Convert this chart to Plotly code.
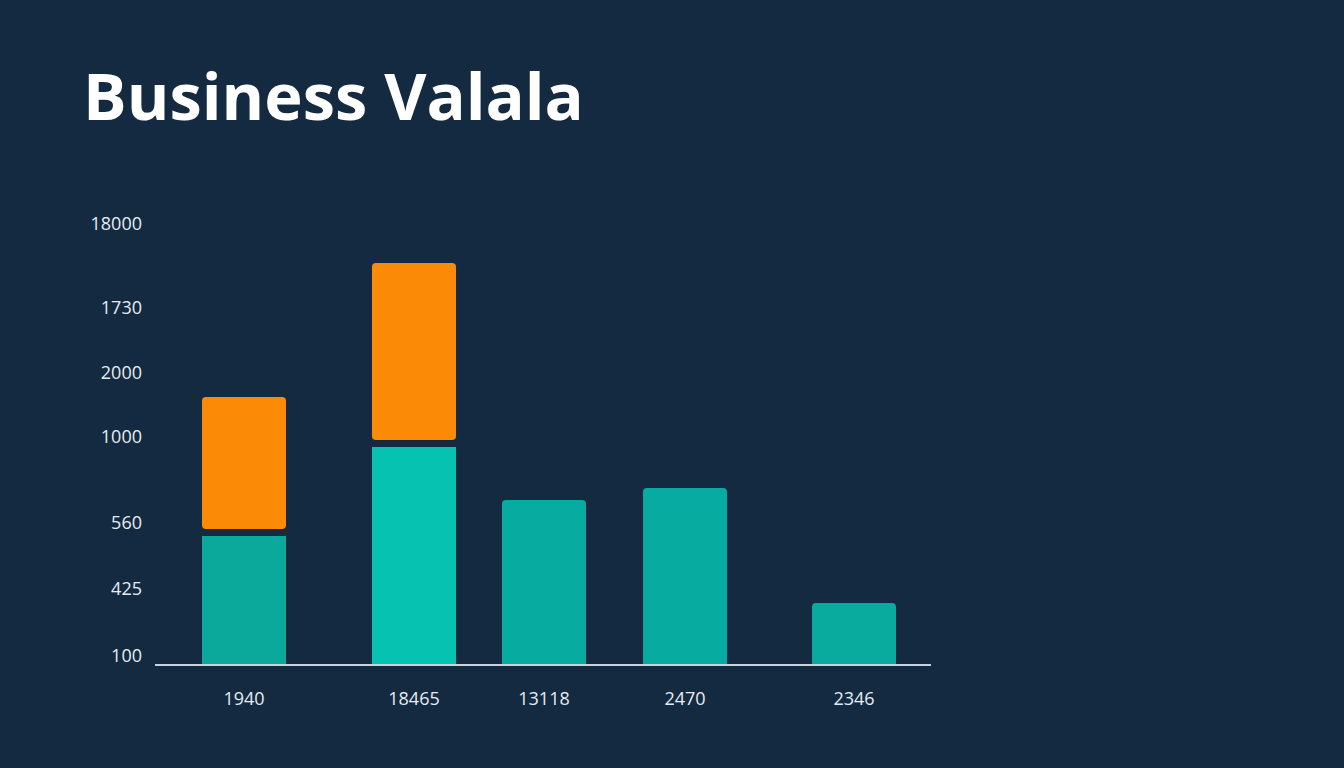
import plotly.graph_objects as go

# arbitrary units: value = pixel height above baseline
categories = ["1940", "18465", "13118", "2470", "2346"]
x_pos = [244, 414, 544, 685, 854]
teal_vals = [128, 217, 164, 176, 61]
orange_base = [135, 224, None, None, None]
orange_top = [267, 401, None, None, None]
tick_vals = [8, 75, 141, 227, 291, 356, 440]
tick_text = ["100", "425", "560", "1000", "2000", "1730", "18000"]

orange_len = [t - b if t is not None else None for t, b in zip(orange_top, orange_base)]

fig = go.Figure()
fig.add_bar(x=x_pos, y=teal_vals, width=84, marker=dict(color=["#0aa99c", "#06c2b1", "#08ab9f", "#08ab9f", "#09ab9f"], line_width=0))
fig.add_bar(x=x_pos, y=orange_len, base=orange_base, width=84, marker=dict(color="#fb8b07", line_width=0))

fig.update_layout(
    width=1344, height=768, barmode="overlay", barcornerradius=4, showlegend=False,
    paper_bgcolor="#132a40", plot_bgcolor="rgba(0,0,0,0)",
    margin=dict(l=155, r=413, t=200, b=104),
    title=dict(text="<b>Business Valala</b>", x=83/1344, xanchor="left", y=1-97/768, yanchor="middle",
               font=dict(family="Open Sans", size=65, color="#ffffff")),
    font=dict(family="Open Sans", color="#e6ecf2", size=18),
)
fig.update_xaxes(range=[155, 931], tickvals=x_pos, ticktext=categories, showgrid=False, zeroline=False,
                 showline=True, linecolor="#c9d3dd", linewidth=1.5, ticks="", ticklabelstandoff=18)
fig.update_yaxes(range=[0, 464], tickvals=tick_vals, ticktext=tick_text, showgrid=False, zeroline=False,
                 showline=False, ticks="", ticklabelstandoff=12)
fig.write_html("out.html", config={"displayModeBar": False},
               post_script="document.body.style.margin='0';document.body.style.background='#132a40';")
